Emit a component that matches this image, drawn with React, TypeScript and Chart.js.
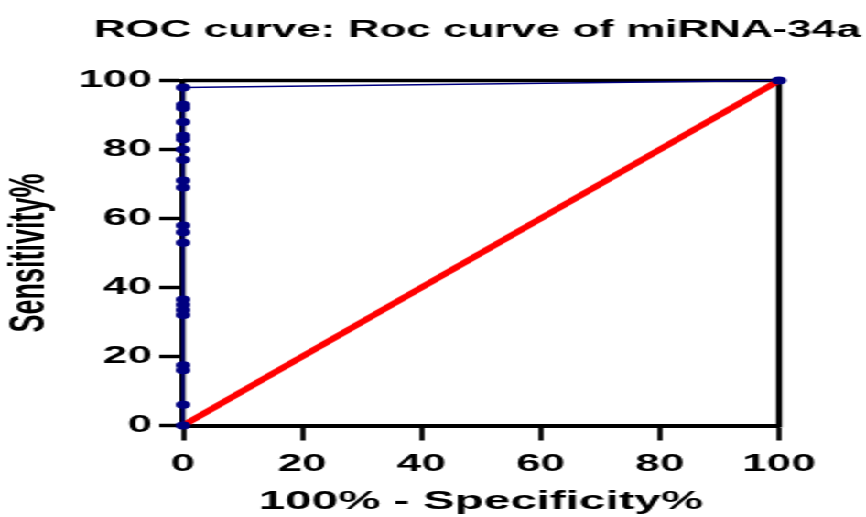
import React, { useEffect, useRef } from "react";
import { Chart, registerables } from "chart.js";

Chart.register(...registerables);

// ROC curve points (100% - Specificity%, Sensitivity%)
const specificityComplement = [0, 0, 0, 0, 0, 0, 0, 0, 0, 0, 0, 0, 0, 0, 0, 0, 0, 0, 0, 0, 0, 100];
const sensitivity = [0, 6, 16, 17.5, 32, 33.5, 35, 36.5, 53, 56, 58, 69, 71, 77, 80, 83, 84, 88, 92, 93, 98, 100];

// Reference (chance) line
const diagonalX = [0, 100];
const diagonalY = [0, 100];

const axisMin = 0;
const axisMax = 100;
const axisStep = 20;

const chartTitle = "ROC curve: Roc curve of miRNA-34a";
const xTitle = "100% - Specificity%";
const yTitle = "Sensitivity%";

const W0 = 473;
const H = 517;
const SX = 866 / W0;
const FAMILY = "'Liberation Sans', Arial, Helvetica, sans-serif";

const framePlugin = {
  id: "frame",
  beforeDatasetsDraw(chart: any) {
    const { ctx, chartArea } = chart;
    const { left, right, top, bottom } = chartArea;
    ctx.save();
    ctx.strokeStyle = "#000";
    ctx.lineWidth = 3.5;
    ctx.beginPath();
    ctx.moveTo(left, top);
    ctx.lineTo(right + 1.7, top);
    ctx.stroke();
    ctx.lineWidth = 3.3;
    ctx.beginPath();
    ctx.moveTo(right, top - 1.75);
    ctx.lineTo(right, bottom + 2);
    ctx.stroke();
    ctx.restore();
  },
};

export default function App() {
  const ref = useRef<HTMLCanvasElement | null>(null);

  useEffect(() => {
    if (!ref.current) return;
    const rocData = specificityComplement.map((x, i) => ({ x, y: sensitivity[i] }));
    const diagData = diagonalX.map((x, i) => ({ x, y: diagonalY[i] }));
    const tickFont = { family: FAMILY, size: 24, weight: "bold" as const };
    const titleFont = { family: FAMILY, size: 26, weight: "bold" as const };

    const chart = new Chart(ref.current, {
      type: "scatter",
      data: {
        datasets: [
          {
            label: "ROC",
            data: rocData,
            showLine: true,
            borderColor: "#000080",
            backgroundColor: "#000080",
            borderWidth: 1.5,
            pointRadius: 4,
            pointBorderWidth: 0,
            pointBackgroundColor: "#000080",
            clip: false as any,
          },
          {
            label: "Chance",
            data: diagData,
            showLine: true,
            borderColor: "#FF0000",
            backgroundColor: "#FF0000",
            borderWidth: 5,
            pointRadius: 0,
            clip: false as any,
          },
        ],
      },
      options: {
        responsive: false,
        devicePixelRatio: 1,
        animation: false,
        layout: { padding: { left: 0, right: 3, top: 0, bottom: 0 } },
        plugins: {
          legend: { display: false },
          tooltip: { enabled: false },
          title: {
            display: true,
            text: chartTitle,
            align: "end",
            color: "#000",
            font: { family: FAMILY, size: 24, weight: "bold" },
            padding: { top: 16, bottom: 35.7 },
          },
        },
        scales: {
          x: {
            type: "linear",
            position: "bottom",
            min: axisMin,
            max: axisMax,
            ticks: { stepSize: axisStep, color: "#000", font: tickFont, padding: 9, maxRotation: 0 },
            grid: {
              drawOnChartArea: false,
              drawTicks: true,
              tickLength: 15,
              tickWidth: 2.7,
              tickColor: "#000",
              color: "#000",
            },
            border: { display: true, color: "#000", width: 4 },
            title: { display: true, text: xTitle, color: "#000", font: titleFont, padding: { top: 0, bottom: 0 } },
            afterFit: (s: any) => {
              s.height = 91.5;
            },
          },
          y: {
            type: "linear",
            position: "left",
            min: axisMin,
            max: axisMax,
            ticks: { stepSize: axisStep, color: "#000", font: tickFont, padding: 4 },
            grid: {
              drawOnChartArea: false,
              drawTicks: true,
              tickLength: 13,
              tickWidth: 3.5,
              tickColor: "#000",
              color: "#000",
            },
            border: { display: true, color: "#000", width: 3.3 },
            title: {
              display: true,
              text: yTitle,
              color: "#000",
              font: { family: FAMILY, size: 27, weight: "bold" },
              padding: { top: 0, bottom: 0 },
            },
            afterFit: (s: any) => {
              s.width = 100;
            },
          },
          ySpacer: {
            type: "linear",
            position: "right",
            min: axisMin,
            max: axisMax,
            ticks: { display: false },
            grid: { display: false, drawTicks: false },
            border: { display: false },
            afterFit: (s: any) => {
              s.width = 44.5;
            },
          },
        },
      },
      plugins: [framePlugin],
    });
    return () => chart.destroy();
  }, []);

  return (
    <div
      style={{
        position: "fixed",
        left: 0,
        top: 0,
        width: W0,
        height: H,
        transform: `scaleX(${SX})`,
        transformOrigin: "0 0",
        background: "#fff",
      }}
    >
      <canvas ref={ref} width={W0} height={H} style={{ width: `${W0}px`, height: `${H}px`, display: "block" }} />
    </div>
  );
}
